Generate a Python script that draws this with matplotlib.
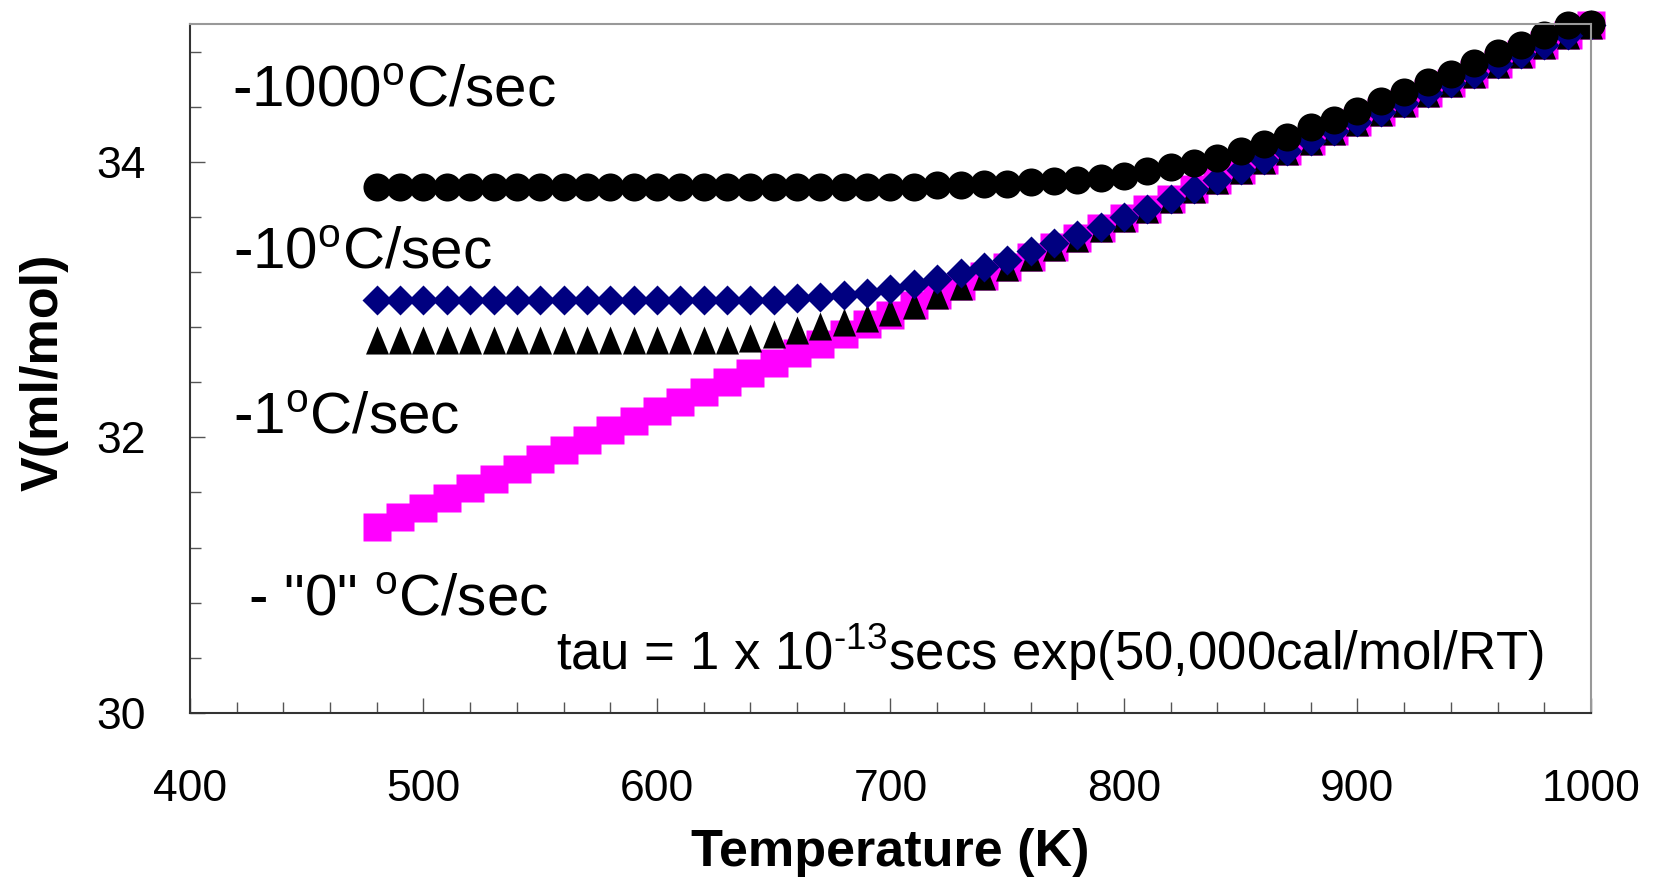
import matplotlib
matplotlib.use("Agg")
import matplotlib.pyplot as plt
from matplotlib.ticker import MultipleLocator

plt.rcParams['font.family'] = ['Liberation Sans', 'DejaVu Sans']
plt.rcParams['mathtext.fontset'] = 'custom'
plt.rcParams['mathtext.rm'] = 'Liberation Sans'
plt.rcParams['mathtext.it'] = 'Liberation Sans:italic'
plt.rcParams['mathtext.bf'] = 'Liberation Sans:bold'

# temperature (K) of every point
temps = [480, 490, 500, 510, 520, 530, 540, 550, 560, 570,
         580, 590, 600, 610, 620, 630, 640, 650, 660, 670,
         680, 690, 700, 710, 720, 730, 740, 750, 760, 770,
         780, 790, 800, 810, 820, 830, 840, 850, 860, 870,
         880, 890, 900, 910, 920, 930, 940, 950, 960, 970,
         980, 990, 1000]

# - "0" C/sec (equilibrium), magenta squares
v_eq = [31.35, 31.42, 31.49, 31.56, 31.63, 31.70, 31.77, 31.84, 31.91, 31.98,
        32.05, 32.12, 32.19, 32.26, 32.33, 32.40, 32.47, 32.54, 32.61, 32.68,
        32.75, 32.82, 32.89, 32.96, 33.03, 33.10, 33.17, 33.24, 33.31, 33.38,
        33.45, 33.52, 33.59, 33.66, 33.73, 33.80, 33.87, 33.94, 34.01, 34.08,
        34.15, 34.22, 34.29, 34.36, 34.43, 34.50, 34.57, 34.64, 34.71, 34.78,
        34.85, 34.92, 34.99]

# -1 C/sec, black triangles
v_1 = [32.71, 32.71, 32.71, 32.71, 32.71, 32.71, 32.71, 32.71, 32.71, 32.71,
       32.71, 32.71, 32.71, 32.71, 32.71, 32.71, 32.72, 32.75, 32.78, 32.81,
       32.84, 32.87, 32.91, 32.96, 33.03, 33.10, 33.17, 33.24, 33.31, 33.38,
       33.45, 33.52, 33.59, 33.66, 33.73, 33.80, 33.87, 33.94, 34.01, 34.08,
       34.15, 34.22, 34.29, 34.36, 34.43, 34.50, 34.57, 34.64, 34.71, 34.78,
       34.85, 34.92, 34.99]

# -10 C/sec, navy diamonds
v_10 = [33.00, 33.00, 33.00, 33.00, 33.00, 33.00, 33.00, 33.00, 33.00, 33.00,
        33.00, 33.00, 33.00, 33.00, 33.00, 33.00, 33.00, 33.00, 33.01, 33.02,
        33.03, 33.05, 33.08, 33.11, 33.15, 33.19, 33.24, 33.29, 33.35, 33.41,
        33.47, 33.53, 33.60, 33.66, 33.73, 33.80, 33.87, 33.94, 34.01, 34.08,
        34.15, 34.22, 34.29, 34.36, 34.43, 34.50, 34.57, 34.64, 34.71, 34.78,
        34.85, 34.92, 34.99]

# -1000 C/sec, black circles
v_1000 = [33.82, 33.82, 33.82, 33.82, 33.82, 33.82, 33.82, 33.82, 33.82, 33.82,
          33.82, 33.82, 33.82, 33.82, 33.82, 33.82, 33.82, 33.82, 33.82, 33.82,
          33.82, 33.82, 33.82, 33.82, 33.83, 33.83, 33.84, 33.84, 33.85, 33.86,
          33.87, 33.88, 33.90, 33.93, 33.96, 33.99, 34.03, 34.08, 34.13, 34.18,
          34.25, 34.30, 34.37, 34.44, 34.51, 34.58, 34.64, 34.72, 34.79, 34.85,
          34.92, 34.99, 35.00]

xticks = [400, 500, 600, 700, 800, 900, 1000]
yticks = [30, 32, 34]

fig = plt.figure(figsize=(16.55, 8.86), dpi=100)
ax = fig.add_axes([0.1148, 0.1953, 0.8465, 0.7776])

tri = [(-0.82, -1), (0.82, -1), (0, 1)]
ax.plot(temps, v_eq, ls='none', marker='s', ms=20.2, mfc='#ff00ff', mec='none', clip_on=False)
ax.plot(temps, v_1, ls='none', marker=tri, ms=20.2, mfc='black', mec='none', clip_on=False)
ax.plot(temps, v_10, ls='none', marker='D', ms=15.2, mfc='#000080', mec='none', clip_on=False)
ax.plot(temps, v_1000, ls='none', marker='o', ms=20.2, mfc='black', mec='none', clip_on=False)

ax.set_xlim(400, 1000)
ax.set_ylim(30, 35)
ax.set_xticks(xticks)
ax.set_yticks(yticks)
ax.xaxis.set_minor_locator(MultipleLocator(20))
ax.yaxis.set_minor_locator(MultipleLocator(0.4))
ax.tick_params(which='both', direction='in', color='#555555', width=1, labelsize=32)
ax.tick_params(which='major', length=11)
ax.tick_params(which='minor', length=8)
ax.tick_params(axis='x', which='major', pad=40)
ax.tick_params(axis='y', which='major', pad=32)

for s in ['left', 'bottom']:
    ax.spines[s].set_color('#333333')
    ax.spines[s].set_linewidth(1.5)
for s in ['top', 'right']:
    ax.spines[s].set_color('#999999')
    ax.spines[s].set_linewidth(1.5)

ax.set_xlabel('Temperature (K)', fontsize=37.5, fontweight='bold', va='center')
ax.xaxis.set_label_coords(0.5, -0.203)
ax.set_ylabel('V(ml/mol)', fontsize=37.5, fontweight='bold', va='center')
ax.yaxis.set_label_coords(-0.104, 0.495)

ax.text(418, 34.40, r'-1000$^{\mathrm{o}}$C/sec', fontsize=42, va='baseline')
ax.text(418.4, 33.23, r'-10$^{\mathrm{o}}$C/sec', fontsize=42, va='baseline')
ax.text(418.4, 32.03, r'-1$^{\mathrm{o}}$C/sec', fontsize=42, va='baseline')
ax.text(424.8, 30.71, r'- "0" $^{\mathrm{o}}$C/sec', fontsize=42, va='baseline')
ax.text(556.7, 30.31, r'tau = 1 x 10$^{\text{-13}}$secs exp(50,000cal/mol/RT)',
        fontsize=38, va='baseline')

fig.savefig('out.png', dpi=100)
